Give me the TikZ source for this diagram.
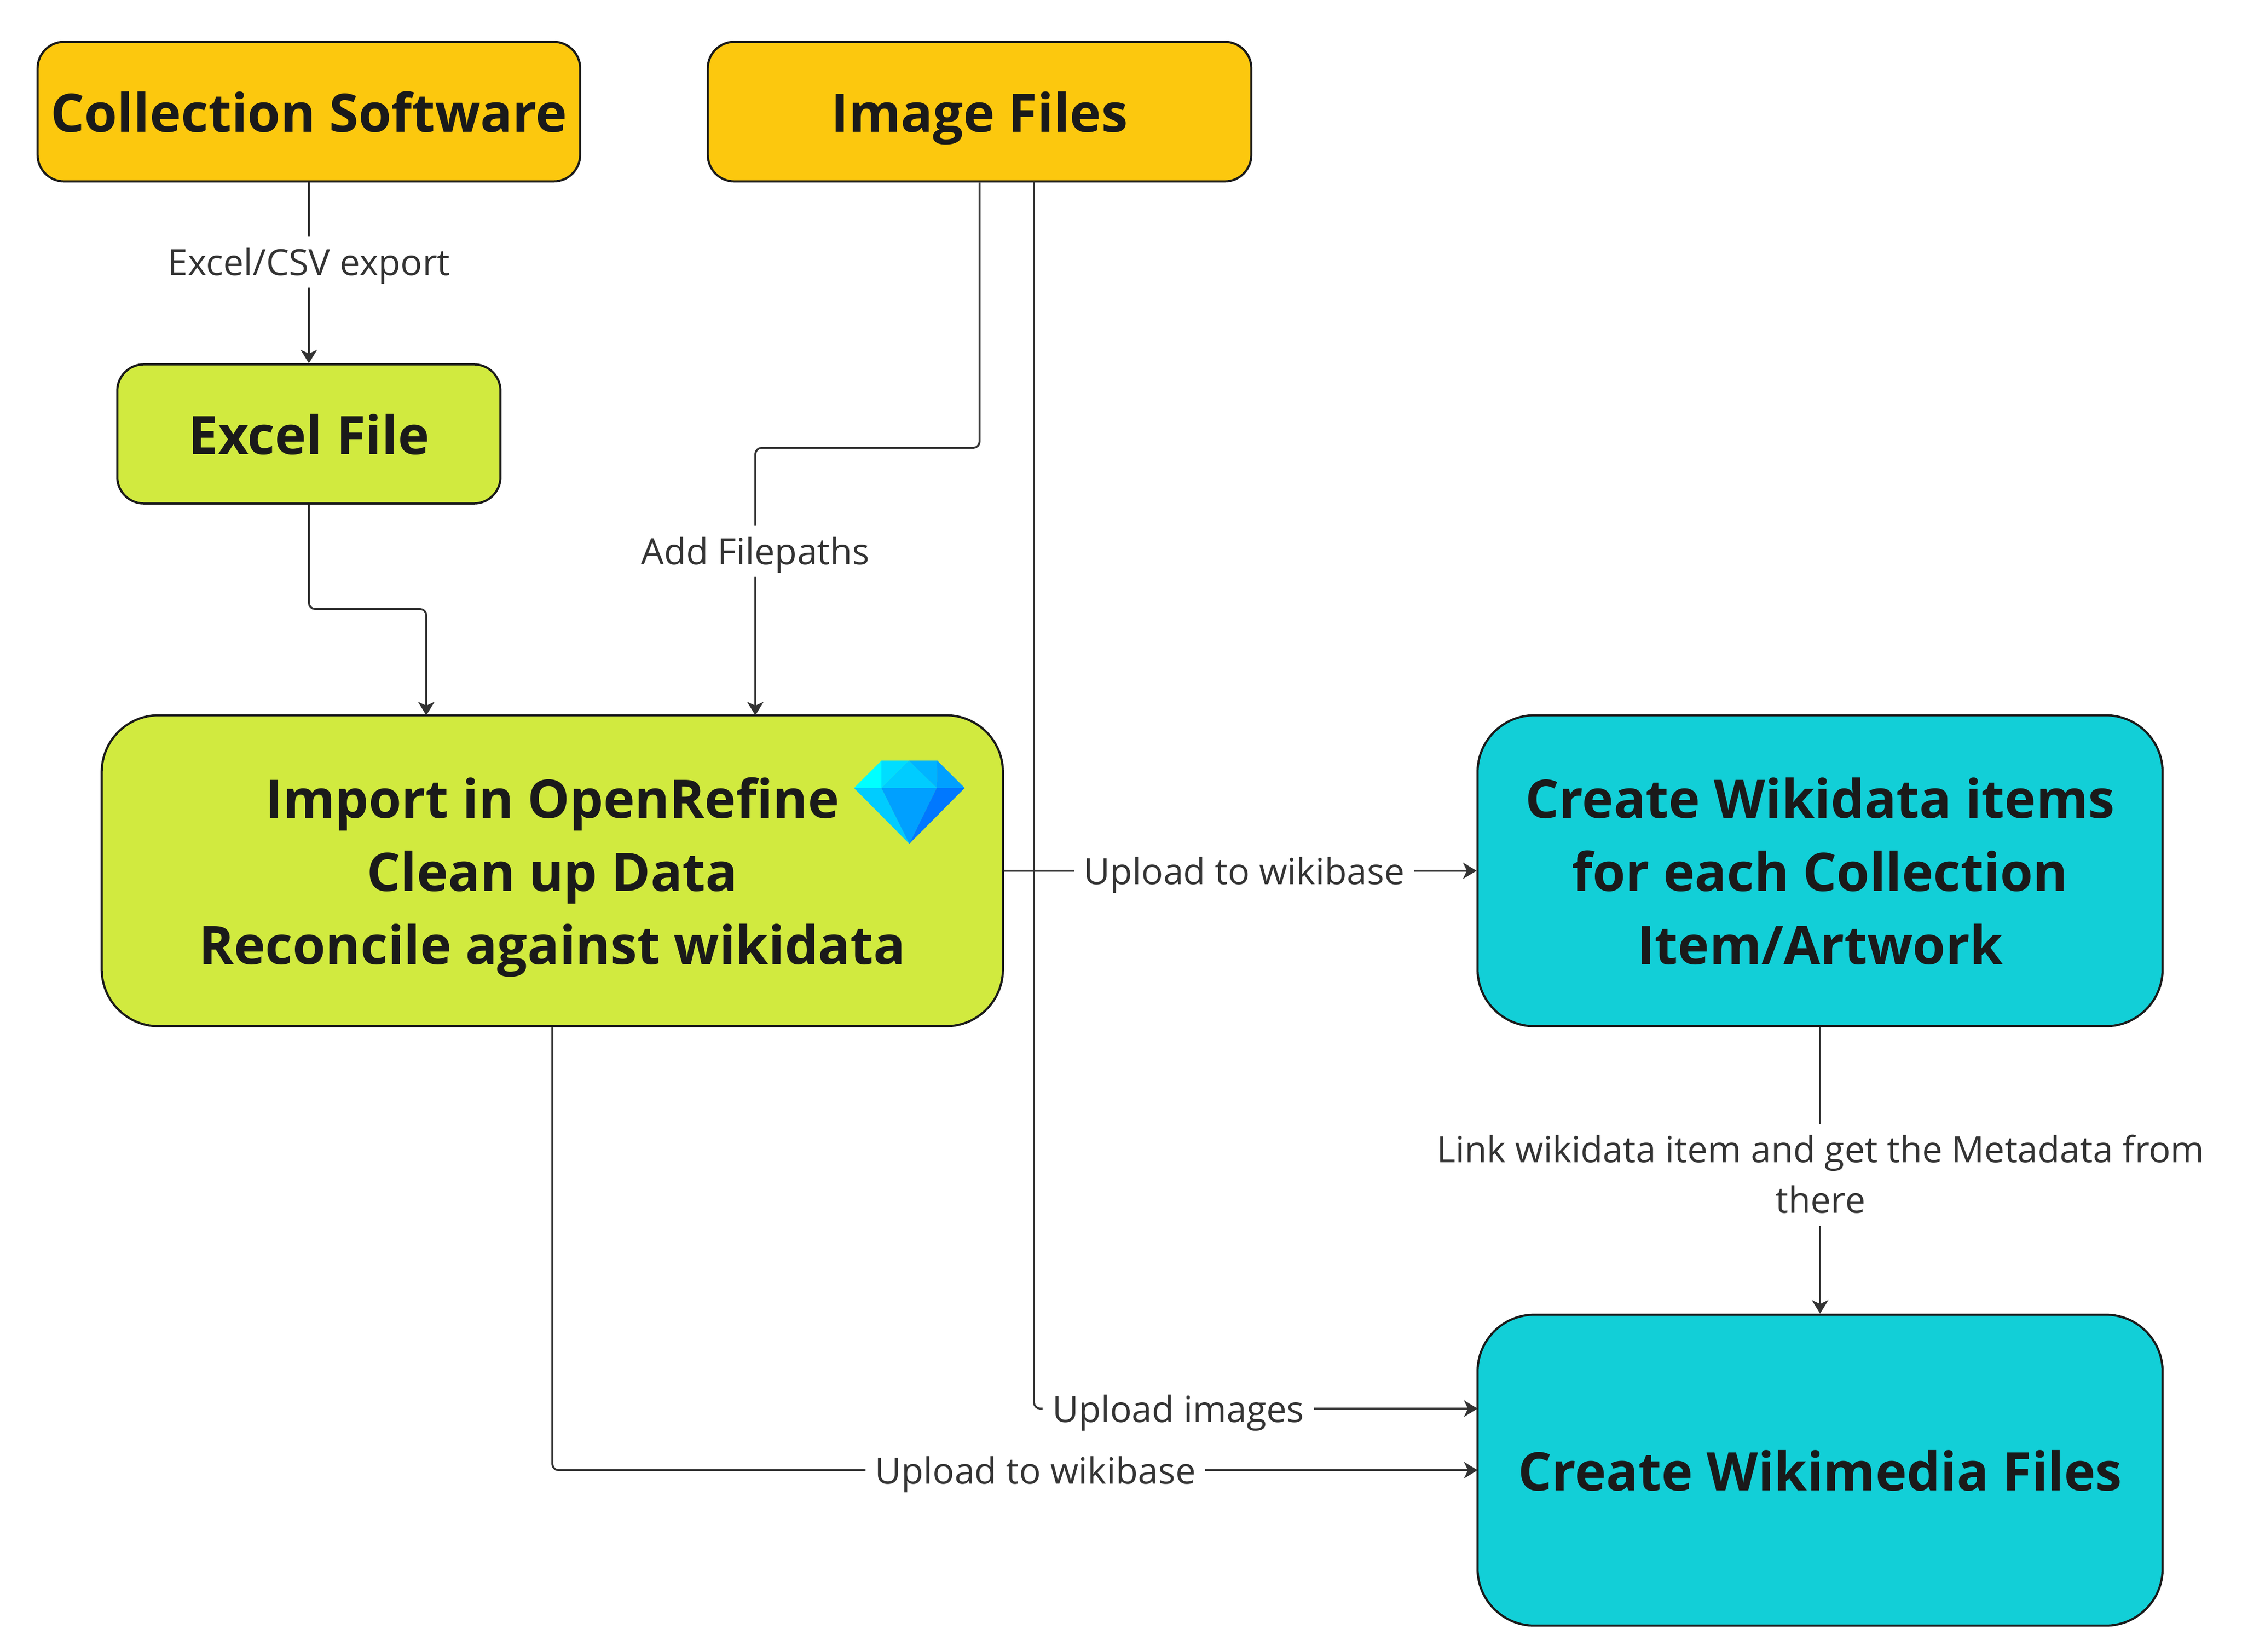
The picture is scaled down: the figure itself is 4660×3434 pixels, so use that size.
\documentclass[tikz,border=0pt]{standalone}
\usepackage{fontspec}
\setmainfont{Open Sans}
\usetikzlibrary{arrows.meta}
\definecolor{cyel}{HTML}{FCC80E}
\definecolor{cgrn}{HTML}{D1EA3F}
\definecolor{ctea}{HTML}{12CFD7}
\definecolor{cink}{HTML}{1A1A1A}
\definecolor{cline}{HTML}{333333}
\definecolor{dA}{HTML}{00FFFF}
\definecolor{dB}{HTML}{00DDFF}
\definecolor{dC}{HTML}{00CCFF}
\definecolor{dD}{HTML}{00B4FF}
\definecolor{dE}{HTML}{00A0FF}
\definecolor{dF}{HTML}{0078FF}
\newcommand{\boxstrut}{\rule[-9.6pt]{0pt}{43.3pt}}
\newcommand{\labstrut}{\rule[-7.3pt]{0pt}{30pt}}
\tikzset{
  boxbase/.style={draw=cink,line width=0.045cm,inner sep=0pt,align=center,text=cink,font=\bfseries\fontsize{31.4}{43.3}\selectfont},
  smallbox/.style={boxbase,rounded corners=0.55cm},
  bigbox/.style={boxbase,rounded corners=1.18cm},
  conn/.style={draw=cline,line width=0.04cm,rounded corners=0.13cm,-{Stealth[length=0.28cm,width=0.34cm,inset=0.08cm]}},
  lab/.style={fill=white,text=cline,inner xsep=0.2cm,inner ysep=0pt,align=center,font=\fontsize{21.4}{30}\selectfont}
}
\begin{document}
\begin{tikzpicture}[x=0.01cm,y=-0.01cm]
\useasboundingbox (0,0) rectangle (4660,3434);
% boxes
\node[smallbox,fill=cyel,minimum width=11.27cm,minimum height=2.9cm] (cs) at (642,232) {\boxstrut Collection Software};
\node[smallbox,fill=cyel,minimum width=11.29cm,minimum height=2.9cm] (img) at (2036,232) {\boxstrut Image Files};
\node[smallbox,fill=cgrn,minimum width=7.96cm,minimum height=2.89cm] (xl) at (642,902) {\boxstrut Excel File};
\node[bigbox,fill=cgrn,minimum width=18.72cm,minimum height=6.46cm] (or) at (1148,1810) {\boxstrut Import in OpenRefine\\\boxstrut Clean up Data\\\boxstrut Reconcile against wikidata};
\node[bigbox,fill=ctea,minimum width=14.23cm,minimum height=6.46cm] (wd) at (3783,1810) {\boxstrut Create Wikidata items\\\boxstrut for each Collection\\\boxstrut Item/Artwork};
\node[bigbox,fill=ctea,minimum width=14.23cm,minimum height=6.46cm] (wm) at (3783,3056) {\boxstrut Create Wikimedia Files};
% diamond
\fill[dA] (1775,1638) -- (1832,1581) -- (1832,1638) -- cycle;
\fill[dB] (1832,1581) -- (1889,1581) -- (1832,1638) -- cycle;
\fill[dC] (1832,1638) -- (1889,1581) -- (1947,1638) -- cycle;
\fill[dD] (1889,1581) -- (1948,1581) -- (1947,1638) -- cycle;
\fill[dE] (1948,1581) -- (2005,1638) -- (1947,1638) -- cycle;
\fill[dC] (1775,1638) -- (1832,1638) -- (1890,1754) -- cycle;
\fill[dE] (1832,1638) -- (1947,1638) -- (1890,1754) -- cycle;
\fill[dF] (1947,1638) -- (2005,1638) -- (1890,1754) -- cycle;
% way points
\coordinate (xlA) at (642,1266);
\coordinate (xlB) at (886,1266);
\coordinate (orT1) at (886,1487);
\coordinate (imgA) at (2036,931);
\coordinate (imgB) at (1570,931);
\coordinate (orT2) at (1570,1487);
\coordinate (imgS) at (2149,377);
\coordinate (imgC) at (2149,2928);
\coordinate (wmL1) at (3071,2928);
\coordinate (orB) at (1148,3056);
\coordinate (wmL2) at (3071,3056);
% connectors
\draw[conn] (cs.south) -- (xl.north);
\draw[conn] (xl.south) -- (xlA) -- (xlB) -- (orT1);
\draw[conn] (img.south) -- (imgA) -- (imgB) -- (orT2);
\draw[conn] (imgS) -- (imgC) -- (wmL1);
\draw[conn] (or.east) -- (wd.west);
\draw[conn] (or.south) -- (orB) -- (wmL2);
\draw[conn] (wd.south) -- (wm.north);
% labels
\node[lab] (l1) at (642,545) {\labstrut Excel/CSV export};
\node[lab] (l2) at (1570,1146) {\labstrut Add Filepaths};
\node[lab] (l3) at (2586,1811) {\labstrut Upload to wikibase};
\node[lab] (l4) at (2449,2929) {\labstrut Upload images};
\node[lab] (l5) at (2152,3057) {\labstrut Upload to wikibase};
\node[lab] (l6) at (3784,2442) {\labstrut Link wikidata item and get the Metadata from\\\labstrut there};
\end{tikzpicture}
\end{document}
